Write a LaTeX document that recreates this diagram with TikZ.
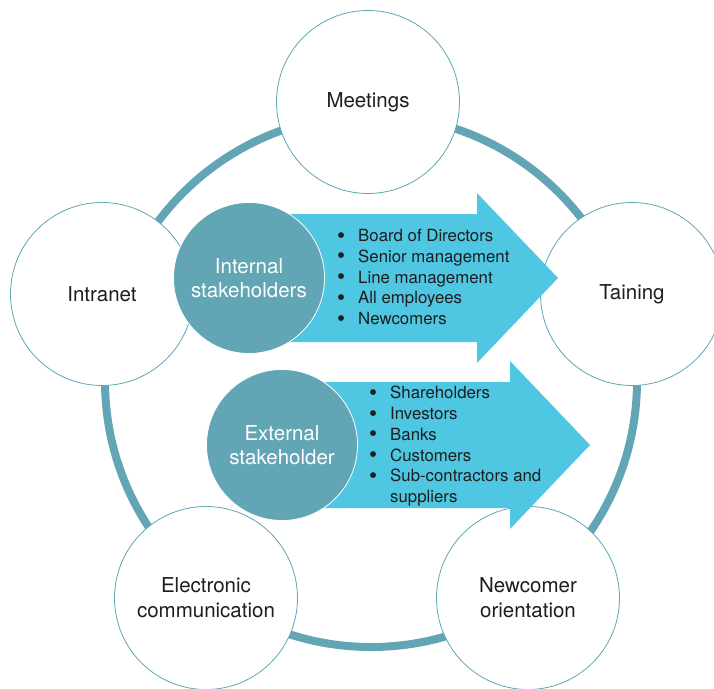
\documentclass[tikz,border=0pt]{standalone}
\usepackage{fontspec}
\setmainfont{TeX Gyre Heros}
\usetikzlibrary{positioning}
\definecolor{tealring}{RGB}{98,165,180}
\definecolor{skyflow}{RGB}{79,198,226}
\definecolor{ink}{RGB}{30,30,30}
\tikzset{
    channel/.style={
           circle,
           draw=tealring,
           fill=white,
           line width=0.8bp,
           minimum size=183bp,
           inner sep=0pt,
           align=center,
           text=ink,
           font=\fontsize{20.5bp}{25bp}\selectfont,
           },
}
\newcommand{\listdot}{\makebox[21bp][l]{\raisebox{-1.6bp}{\fontsize{23bp}{0bp}\selectfont\textbullet}}}

\begin{document}
\begin{tikzpicture}[
  x=1bp,y=-1bp,
  ring/.style={draw=tealring,line width=8bp},
  group/.style={circle,fill=tealring,draw=white,line width=0.8bp,
    minimum size=151bp,inner sep=0pt,align=center,text=white,
    font=\fontsize{20.5bp}{24bp}\selectfont},
  flow/.style={fill=skyflow},
  members/.style={anchor=north west,inner sep=0pt,align=left,text=ink,
    font=\fontsize{16.8bp}{20.8bp}\selectfont}]
\useasboundingbox (0,0) rectangle (714,689);
\draw[ring] (371,381) circle (266bp);
\node[channel] (meetings) at (368,102) {Meetings};
\node[channel] (intranet) at (102,294) {Intranet};
\node[channel] (training) at (632,294) {Taining};
\node[channel] (electronic) at (206,598) {Electronic\\communication};
\node[channel] (newcomer) at (528,598) {Newcomer\\orientation};

\fill[flow] (249,214) -- (477,214) -- (477,193) -- (558,278)
      -- (477,363) -- (477,342) -- (249,342) -- cycle;
\fill[flow] (282,382) -- (510,382) -- (510,361) -- (590,445)
      -- (510,529) -- (510,508) -- (282,508) -- cycle;

\node[group] (internal) at (249,278) {Internal\\stakeholders};
\node[group] (external) at (282,445) {External\\stakeholder};

\node[members] (internallist) at (337,229) {\listdot Board of Directors\\
  \listdot Senior management\\ \listdot Line management\\
  \listdot All employees\\ \listdot Newcomers};
\node[members] (externallist) at (369,386) {\listdot Shareholders\\
  \listdot Investors\\ \listdot Banks\\ \listdot Customers\\
  \listdot Sub-contractors and\\ \hspace*{21bp}suppliers};
\end{tikzpicture}
\end{document}
